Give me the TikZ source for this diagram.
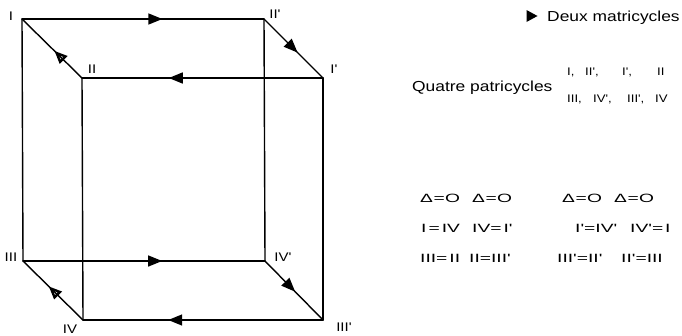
\documentclass[tikz,border=0pt]{standalone}
\usepackage{fontspec}
\usetikzlibrary{arrows.meta,decorations.markings}
\newfontfamily\txtf[FakeStretch=1.2]{Liberation Sans}
\newfontfamily\eqf[FakeStretch=1.6]{Liberation Sans}
\begin{document}
\begin{tikzpicture}[x=1pt,y=-1pt,
  edge/.style={line width=1.4pt, line cap=round},
  flow/.style={edge, postaction={decorate}, decoration={markings,
     mark=at position #1 with {\arrow{Triangle[length=14pt,width=11pt]}}}},
  oflow/.style={edge, postaction={decorate}, decoration={markings,
     mark=at position #1 with {\arrow{Triangle[open,length=13pt,width=10.5pt,line width=2.4pt]}}}},
  vlab/.style={font=\txtf\fontsize{12.5}{14}\selectfont, inner sep=0pt},
  big/.style={font=\txtf\fontsize{14.5}{16}\selectfont, inner sep=0pt, anchor=base west},
  small/.style={font=\txtf\fontsize{11}{12}\selectfont, inner sep=0pt, anchor=base west},
  eqn/.style={font=\eqf\fontsize{12}{14}\selectfont, inner sep=0pt, anchor=base west}
]
\useasboundingbox (0,0) rectangle (682,335);
% vertices
\coordinate (I) at (22,19);
\coordinate (IIp) at (264,19);
\coordinate (Ip) at (323,78);
\coordinate (II) at (82,78);
\coordinate (III) at (23,261);
\coordinate (IVp) at (265,261);
\coordinate (IIIp) at (323,320);
\coordinate (IV) at (83,320);
% vertical edges
\draw[edge] (I) -- (III);
\draw[edge] (II) -- (IV);
\draw[edge] (IIp) -- (IVp);
\draw[edge] (Ip) -- (IIIp);
% top cycle
\draw[flow=0.58] (I) -- (IIp);
\draw[flow=0.57] (IIp) -- (Ip);
\draw[flow=0.64] (Ip) -- (II);
\draw[oflow=0.46] (II) -- (I);
% bottom cycle
\draw[flow=0.575] (III) -- (IVp);
\draw[flow=0.52] (IVp) -- (IIIp);
\draw[flow=0.645] (IIIp) -- (IV);
\draw[oflow=0.57] (IV) -- (III);
% vertex labels
\node[vlab] (lI) at (11,16) {I};
\node[vlab] (lIIp) at (275,14) {II'};
\node[vlab] (lIp) at (334,69) {I'};
\node[vlab] (lII) at (92,69) {II};
\node[vlab] (lIII) at (11,257) {III};
\node[vlab] (lIVp) at (283,257) {IV'};
\node[vlab] (lIV) at (70,329) {IV};
\node[vlab] (lIIIp) at (344,327) {III'};
% legend
\coordinate (mk) at (532,16);
\fill (mk) ++(-5.5,-6) -- ++(11,6) -- ++(-11,6) -- cycle;
\node[big] (deux) at (547,21) {Deux matricycles};
\node[big] (quatre) at (412,91) {Quatre patricycles};
\node[small] (p1) at (567,75) {I,};
\node[small] (p2) at (585,75) {II',};
\node[small] (p3) at (622,75) {I',};
\node[small] (p4) at (657,75) {II};
\node[small] (p5) at (567,102) {III,};
\node[small] (p6) at (593,102) {IV',};
\node[small] (p7) at (627,102) {III',};
\node[small] (p8) at (655,102) {IV};
% equations
\node[eqn] (e1) at (420,202) {Δ\kern0.5pt=\kern0.5ptO};
\node[eqn] (e2) at (472,202) {Δ\kern0.5pt=\kern0.5ptO};
\node[eqn] (e3) at (421,232) {I\,=\,IV};
\node[eqn] (e4) at (472,232) {IV=\,I'};
\node[eqn] (e5) at (420,262) {III=\,II};
\node[eqn] (e6) at (469,262) {II=III'};
\node[eqn] (e7) at (562,202) {Δ\kern0.5pt=\kern0.5ptO};
\node[eqn] (e8) at (614,202) {Δ\kern0.5pt=\kern0.5ptO};
\node[eqn] (e9) at (575,232) {I'=IV'};
\node[eqn] (e10) at (630,232) {IV'=\,I};
\node[eqn] (e11) at (557,262) {III'=II'};
\node[eqn] (e12) at (621,262) {II'=III};
\end{tikzpicture}
\end{document}
